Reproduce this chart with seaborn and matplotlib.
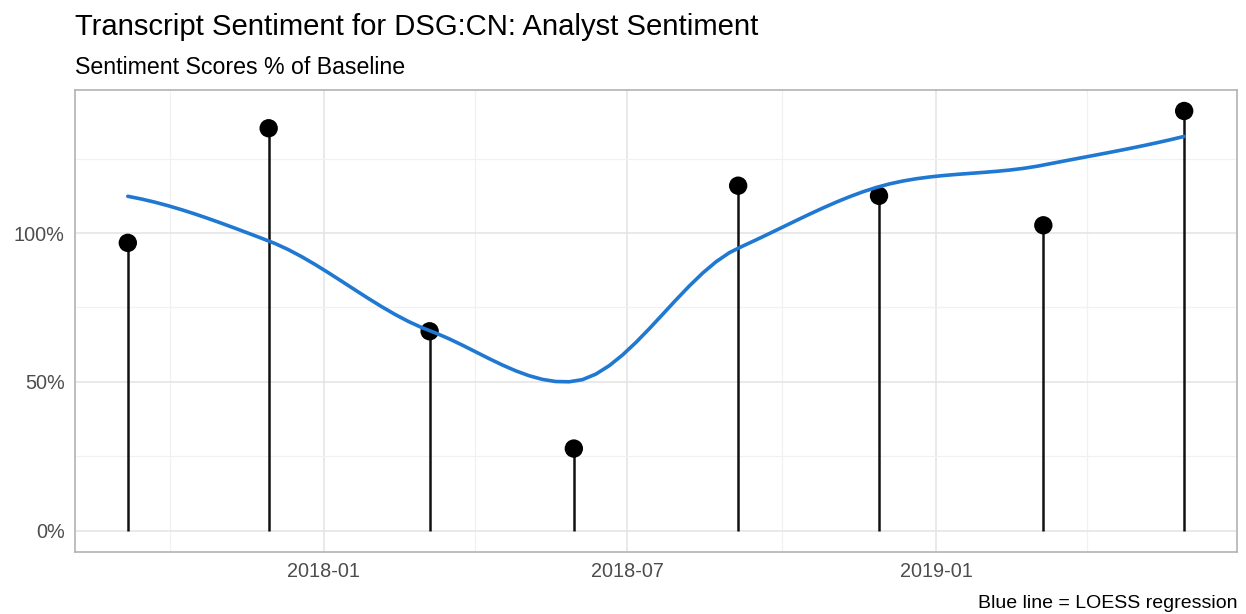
import numpy as np
import pandas as pd
import matplotlib
matplotlib.use("Agg")
import matplotlib.pyplot as plt
import matplotlib.dates as mdates
from matplotlib.ticker import FixedLocator, FuncFormatter
import seaborn as sns

# data
call_dates = ["2017-09-06", "2017-11-29", "2018-03-05", "2018-05-30",
              "2018-09-05", "2018-11-28", "2019-03-06", "2019-05-29"]
sentiment_pct = [96.7, 135.2, 67.0, 27.6, 115.9, 112.5, 102.6, 141.0]

title = "Transcript Sentiment for DSG:CN: Analyst Sentiment"
subtitle = "Sentiment Scores % of Baseline"
caption = "Blue line = LOESS regression"


# local quadratic fit at x0 (tricube weights, span 0.75) -> value, slope
def local_fit(x, y, x0, span=0.75):
    n = len(x)
    q = int(np.floor(n * span))
    d = np.abs(x - x0)
    h = np.sort(d)[q - 1]
    w = np.clip(1 - (d / h) ** 3, 0, None) ** 3
    X = np.column_stack([np.ones(n), x - x0, (x - x0) ** 2])
    sw = np.sqrt(w)
    beta = np.linalg.lstsq(X * sw[:, None], y * sw, rcond=None)[0]
    return beta[0], beta[1]


# R-style loess: exact fits at kd-tree vertices, cubic Hermite in between
def loess(x, y, xout, span=0.75):
    r = x.max() - x.min()
    verts = np.concatenate([[x.min() - 0.005 * r], np.sort(x)[:-1],
                            [x.max() + 0.005 * r]])
    vals = np.array([local_fit(x, y, v, span) for v in verts])
    out = []
    for x0 in xout:
        i = np.clip(np.searchsorted(verts, x0) - 1, 0, len(verts) - 2)
        x_a, x_b = verts[i], verts[i + 1]
        hh = x_b - x_a
        t = (x0 - x_a) / hh
        h00 = 2 * t**3 - 3 * t**2 + 1
        h10 = t**3 - 2 * t**2 + t
        h01 = -2 * t**3 + 3 * t**2
        h11 = t**3 - t**2
        out.append(h00 * vals[i, 0] + h10 * hh * vals[i, 1]
                   + h01 * vals[i + 1, 0] + h11 * hh * vals[i + 1, 1])
    return np.array(out)


df = pd.DataFrame({"date": pd.to_datetime(call_dates), "pct": sentiment_pct})
xnum = mdates.date2num(df["date"])
grid = np.linspace(xnum.min(), xnum.max(), 80)
smooth = pd.DataFrame({"date": mdates.num2date(grid),
                       "fit": loess(xnum, df["pct"].to_numpy(), grid)})
smooth["date"] = smooth["date"].dt.tz_localize(None)

sns.set_theme(style="white")
plt.rcParams["font.family"] = ["Liberation Sans", "DejaVu Sans"]

fig = plt.figure(figsize=(12.46, 6.14), dpi=100)
ax = fig.add_axes([75 / 1246, 1 - 551.7 / 614, 1162 / 1246, 461.7 / 614])

ax.vlines(df["date"], 0, df["pct"], color="#111111", lw=1.8, zorder=2)
sns.scatterplot(data=df, x="date", y="pct", color="black", s=175,
                edgecolor="none", zorder=3, ax=ax)
sns.lineplot(data=smooth, x="date", y="fit", color="#1f78d1", lw=2.6,
             zorder=4, ax=ax)

# ggplot-like 5% expansion
r = xnum.max() - xnum.min()
ax.set_xlim(xnum.min() - 0.05 * r, xnum.max() + 0.05 * r)
ymax = max(sentiment_pct)
ax.set_ylim(-0.05 * ymax, ymax * 1.05)

ax.xaxis.set_major_locator(mdates.MonthLocator(bymonth=[1, 7]))
ax.xaxis.set_major_formatter(mdates.DateFormatter("%Y-%m"))
ax.xaxis.set_minor_locator(mdates.MonthLocator(bymonth=[4, 10]))
ax.yaxis.set_major_locator(FixedLocator([0, 50, 100]))
ax.yaxis.set_minor_locator(FixedLocator([25, 75, 125]))
ax.yaxis.set_major_formatter(FuncFormatter(lambda v, p: f"{v:.0f}%"))

ax.grid(which="major", color="#e3e3e3", lw=1.1)
ax.grid(which="minor", color="#f1f1f1", lw=0.9)
ax.set_axisbelow(True)
for s in ax.spines.values():
    s.set_color("#b3b3b3")
    s.set_linewidth(1.2)

ax.tick_params(which="major", length=3.5, width=0.9, color="#b3b3b3",
               labelsize=14.3, labelcolor="#4d4d4d", pad=4)
ax.tick_params(which="minor", length=0)
ax.set_xlabel("")
ax.set_ylabel("")
if ax.get_legend():
    ax.get_legend().remove()

fig.text(75 / 1246, 1 - 35 / 614, title, fontsize=21.1, color="black",
         ha="left", va="baseline")
fig.text(75 / 1246, 1 - 73.5 / 614, subtitle, fontsize=16.7, color="black",
         ha="left", va="baseline")
fig.text(1237 / 1246, 1 - 608 / 614, caption, fontsize=14, color="black",
         ha="right", va="baseline")

fig.savefig("out.png", dpi=100)
